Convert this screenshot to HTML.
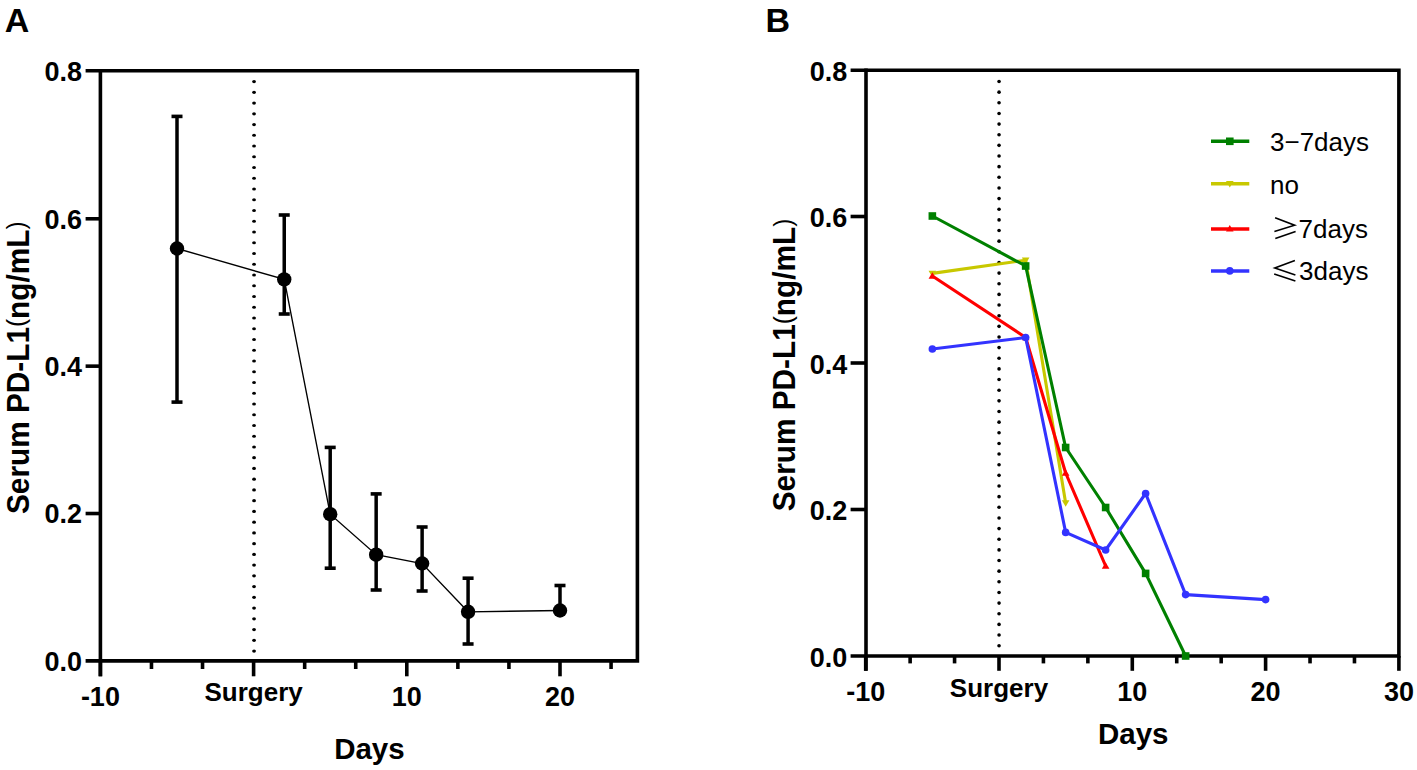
<!DOCTYPE html>
<html><head><meta charset="utf-8"><style>
html,body{margin:0;padding:0;background:#fff;width:1417px;height:770px;overflow:hidden}
svg{display:block;font-family:"Liberation Sans",sans-serif}
</style></head><body>
<svg width="1417" height="770" viewBox="0 0 1417 770">
<rect width="1417" height="770" fill="#fff"/>
<path d="M85.60,70.80 H637.40 V660.90 H85.60" fill="none" stroke="#000" stroke-width="3.6" stroke-linejoin="miter"/>
<line x1="100.40" y1="69.00" x2="100.40" y2="676.30" stroke="#000" stroke-width="3.6" stroke-linecap="butt"/>
<line x1="85.60" y1="513.52" x2="100.40" y2="513.52" stroke="#000" stroke-width="3.6" stroke-linecap="butt"/>
<line x1="85.60" y1="366.15" x2="100.40" y2="366.15" stroke="#000" stroke-width="3.6" stroke-linecap="butt"/>
<line x1="85.60" y1="218.78" x2="100.40" y2="218.78" stroke="#000" stroke-width="3.6" stroke-linecap="butt"/>
<line x1="100.40" y1="660.90" x2="100.40" y2="676.30" stroke="#000" stroke-width="3.6" stroke-linecap="butt"/>
<line x1="151.47" y1="660.90" x2="151.47" y2="669.00" stroke="#000" stroke-width="3.6" stroke-linecap="butt"/>
<line x1="202.53" y1="660.90" x2="202.53" y2="669.00" stroke="#000" stroke-width="3.6" stroke-linecap="butt"/>
<line x1="253.60" y1="660.90" x2="253.60" y2="676.30" stroke="#000" stroke-width="3.6" stroke-linecap="butt"/>
<line x1="304.67" y1="660.90" x2="304.67" y2="669.00" stroke="#000" stroke-width="3.6" stroke-linecap="butt"/>
<line x1="355.73" y1="660.90" x2="355.73" y2="669.00" stroke="#000" stroke-width="3.6" stroke-linecap="butt"/>
<line x1="406.80" y1="660.90" x2="406.80" y2="676.30" stroke="#000" stroke-width="3.6" stroke-linecap="butt"/>
<line x1="457.87" y1="660.90" x2="457.87" y2="669.00" stroke="#000" stroke-width="3.6" stroke-linecap="butt"/>
<line x1="508.93" y1="660.90" x2="508.93" y2="669.00" stroke="#000" stroke-width="3.6" stroke-linecap="butt"/>
<line x1="560.00" y1="660.90" x2="560.00" y2="676.30" stroke="#000" stroke-width="3.6" stroke-linecap="butt"/>
<line x1="611.07" y1="660.90" x2="611.07" y2="669.00" stroke="#000" stroke-width="3.6" stroke-linecap="butt"/>
<ellipse cx="254.05" cy="81.60" rx="1.9" ry="1.55" fill="#000"/>
<ellipse cx="254.05" cy="92.34" rx="1.9" ry="1.55" fill="#000"/>
<ellipse cx="254.05" cy="103.09" rx="1.9" ry="1.55" fill="#000"/>
<ellipse cx="254.05" cy="113.83" rx="1.9" ry="1.55" fill="#000"/>
<ellipse cx="254.05" cy="124.58" rx="1.9" ry="1.55" fill="#000"/>
<ellipse cx="254.05" cy="135.32" rx="1.9" ry="1.55" fill="#000"/>
<ellipse cx="254.05" cy="146.07" rx="1.9" ry="1.55" fill="#000"/>
<ellipse cx="254.05" cy="156.81" rx="1.9" ry="1.55" fill="#000"/>
<ellipse cx="254.05" cy="167.56" rx="1.9" ry="1.55" fill="#000"/>
<ellipse cx="254.05" cy="178.31" rx="1.9" ry="1.55" fill="#000"/>
<ellipse cx="254.05" cy="189.05" rx="1.9" ry="1.55" fill="#000"/>
<ellipse cx="254.05" cy="199.79" rx="1.9" ry="1.55" fill="#000"/>
<ellipse cx="254.05" cy="210.54" rx="1.9" ry="1.55" fill="#000"/>
<ellipse cx="254.05" cy="221.28" rx="1.9" ry="1.55" fill="#000"/>
<ellipse cx="254.05" cy="232.03" rx="1.9" ry="1.55" fill="#000"/>
<ellipse cx="254.05" cy="242.77" rx="1.9" ry="1.55" fill="#000"/>
<ellipse cx="254.05" cy="253.52" rx="1.9" ry="1.55" fill="#000"/>
<ellipse cx="254.05" cy="264.26" rx="1.9" ry="1.55" fill="#000"/>
<ellipse cx="254.05" cy="275.01" rx="1.9" ry="1.55" fill="#000"/>
<ellipse cx="254.05" cy="285.75" rx="1.9" ry="1.55" fill="#000"/>
<ellipse cx="254.05" cy="296.50" rx="1.9" ry="1.55" fill="#000"/>
<ellipse cx="254.05" cy="307.25" rx="1.9" ry="1.55" fill="#000"/>
<ellipse cx="254.05" cy="317.99" rx="1.9" ry="1.55" fill="#000"/>
<ellipse cx="254.05" cy="328.74" rx="1.9" ry="1.55" fill="#000"/>
<ellipse cx="254.05" cy="339.48" rx="1.9" ry="1.55" fill="#000"/>
<ellipse cx="254.05" cy="350.23" rx="1.9" ry="1.55" fill="#000"/>
<ellipse cx="254.05" cy="360.97" rx="1.9" ry="1.55" fill="#000"/>
<ellipse cx="254.05" cy="371.71" rx="1.9" ry="1.55" fill="#000"/>
<ellipse cx="254.05" cy="382.46" rx="1.9" ry="1.55" fill="#000"/>
<ellipse cx="254.05" cy="393.20" rx="1.9" ry="1.55" fill="#000"/>
<ellipse cx="254.05" cy="403.95" rx="1.9" ry="1.55" fill="#000"/>
<ellipse cx="254.05" cy="414.69" rx="1.9" ry="1.55" fill="#000"/>
<ellipse cx="254.05" cy="425.44" rx="1.9" ry="1.55" fill="#000"/>
<ellipse cx="254.05" cy="436.18" rx="1.9" ry="1.55" fill="#000"/>
<ellipse cx="254.05" cy="446.93" rx="1.9" ry="1.55" fill="#000"/>
<ellipse cx="254.05" cy="457.67" rx="1.9" ry="1.55" fill="#000"/>
<ellipse cx="254.05" cy="468.42" rx="1.9" ry="1.55" fill="#000"/>
<ellipse cx="254.05" cy="479.16" rx="1.9" ry="1.55" fill="#000"/>
<ellipse cx="254.05" cy="489.91" rx="1.9" ry="1.55" fill="#000"/>
<ellipse cx="254.05" cy="500.65" rx="1.9" ry="1.55" fill="#000"/>
<ellipse cx="254.05" cy="511.40" rx="1.9" ry="1.55" fill="#000"/>
<ellipse cx="254.05" cy="522.14" rx="1.9" ry="1.55" fill="#000"/>
<ellipse cx="254.05" cy="532.89" rx="1.9" ry="1.55" fill="#000"/>
<ellipse cx="254.05" cy="543.63" rx="1.9" ry="1.55" fill="#000"/>
<ellipse cx="254.05" cy="554.38" rx="1.9" ry="1.55" fill="#000"/>
<ellipse cx="254.05" cy="565.12" rx="1.9" ry="1.55" fill="#000"/>
<ellipse cx="254.05" cy="575.87" rx="1.9" ry="1.55" fill="#000"/>
<ellipse cx="254.05" cy="586.62" rx="1.9" ry="1.55" fill="#000"/>
<ellipse cx="254.05" cy="597.36" rx="1.9" ry="1.55" fill="#000"/>
<ellipse cx="254.05" cy="608.11" rx="1.9" ry="1.55" fill="#000"/>
<ellipse cx="254.05" cy="618.85" rx="1.9" ry="1.55" fill="#000"/>
<ellipse cx="254.05" cy="629.60" rx="1.9" ry="1.55" fill="#000"/>
<ellipse cx="254.05" cy="640.34" rx="1.9" ry="1.55" fill="#000"/>
<ellipse cx="254.05" cy="651.09" rx="1.9" ry="1.55" fill="#000"/>
<path d="M177.00,248.50 L284.24,279.40 L330.20,514.20 L376.16,554.70 L422.12,563.50 L468.08,611.80 L560.00,610.50" fill="none" stroke="#000" stroke-width="1.35"/>
<line x1="177.00" y1="116.40" x2="177.00" y2="402.10" stroke="#000" stroke-width="3.5" stroke-linecap="butt"/>
<line x1="171.50" y1="116.40" x2="182.50" y2="116.40" stroke="#000" stroke-width="3.6" stroke-linecap="butt"/>
<line x1="171.50" y1="402.10" x2="182.50" y2="402.10" stroke="#000" stroke-width="3.6" stroke-linecap="butt"/>
<circle cx="177.00" cy="248.50" r="7.2" fill="#000"/>
<line x1="284.24" y1="215.00" x2="284.24" y2="314.00" stroke="#000" stroke-width="3.5" stroke-linecap="butt"/>
<line x1="278.74" y1="215.00" x2="289.74" y2="215.00" stroke="#000" stroke-width="3.6" stroke-linecap="butt"/>
<line x1="278.74" y1="314.00" x2="289.74" y2="314.00" stroke="#000" stroke-width="3.6" stroke-linecap="butt"/>
<circle cx="284.24" cy="279.40" r="7.2" fill="#000"/>
<line x1="330.20" y1="447.40" x2="330.20" y2="568.20" stroke="#000" stroke-width="3.5" stroke-linecap="butt"/>
<line x1="324.70" y1="447.40" x2="335.70" y2="447.40" stroke="#000" stroke-width="3.6" stroke-linecap="butt"/>
<line x1="324.70" y1="568.20" x2="335.70" y2="568.20" stroke="#000" stroke-width="3.6" stroke-linecap="butt"/>
<circle cx="330.20" cy="514.20" r="7.2" fill="#000"/>
<line x1="376.16" y1="493.90" x2="376.16" y2="590.00" stroke="#000" stroke-width="3.5" stroke-linecap="butt"/>
<line x1="370.66" y1="493.90" x2="381.66" y2="493.90" stroke="#000" stroke-width="3.6" stroke-linecap="butt"/>
<line x1="370.66" y1="590.00" x2="381.66" y2="590.00" stroke="#000" stroke-width="3.6" stroke-linecap="butt"/>
<circle cx="376.16" cy="554.70" r="7.2" fill="#000"/>
<line x1="422.12" y1="527.00" x2="422.12" y2="591.00" stroke="#000" stroke-width="3.5" stroke-linecap="butt"/>
<line x1="416.62" y1="527.00" x2="427.62" y2="527.00" stroke="#000" stroke-width="3.6" stroke-linecap="butt"/>
<line x1="416.62" y1="591.00" x2="427.62" y2="591.00" stroke="#000" stroke-width="3.6" stroke-linecap="butt"/>
<circle cx="422.12" cy="563.50" r="7.2" fill="#000"/>
<line x1="468.08" y1="578.20" x2="468.08" y2="644.00" stroke="#000" stroke-width="3.5" stroke-linecap="butt"/>
<line x1="462.58" y1="578.20" x2="473.58" y2="578.20" stroke="#000" stroke-width="3.6" stroke-linecap="butt"/>
<line x1="462.58" y1="644.00" x2="473.58" y2="644.00" stroke="#000" stroke-width="3.6" stroke-linecap="butt"/>
<circle cx="468.08" cy="611.80" r="7.2" fill="#000"/>
<line x1="560.00" y1="585.50" x2="560.00" y2="610.50" stroke="#000" stroke-width="3.5" stroke-linecap="butt"/>
<line x1="554.50" y1="585.50" x2="565.50" y2="585.50" stroke="#000" stroke-width="3.6" stroke-linecap="butt"/>
<circle cx="560.00" cy="610.50" r="7.2" fill="#000"/>
<text x="4.80" y="31.80" font-size="34" font-weight="bold" text-anchor="start" >A</text>
<text x="44.50" y="670.70" font-size="27" font-weight="bold" text-anchor="start" >0.0</text>
<text x="44.50" y="523.32" font-size="27" font-weight="bold" text-anchor="start" >0.2</text>
<text x="44.50" y="375.95" font-size="27" font-weight="bold" text-anchor="start" >0.4</text>
<text x="44.50" y="228.58" font-size="27" font-weight="bold" text-anchor="start" >0.6</text>
<text x="44.50" y="81.20" font-size="27" font-weight="bold" text-anchor="start" >0.8</text>
<text x="100.40" y="705.50" font-size="27" font-weight="bold" text-anchor="middle" >-10</text>
<text x="253.60" y="700.80" font-size="26" font-weight="bold" text-anchor="middle" >Surgery</text>
<text x="406.80" y="705.50" font-size="27" font-weight="bold" text-anchor="middle" >10</text>
<text x="560.00" y="705.50" font-size="27" font-weight="bold" text-anchor="middle" >20</text>
<text x="369.40" y="759.20" font-size="29.5" font-weight="bold" text-anchor="middle" >Days</text>
<text transform="translate(28.80,367.75) rotate(-90) scale(0.931,1)" font-size="32" font-weight="bold" text-anchor="middle">Serum PD-L1<tspan font-weight="normal" font-size="26" dy="-3.5">(</tspan><tspan dy="3.5">ng/mL</tspan><tspan font-weight="normal" font-size="26" dy="-3.5">)</tspan></text>
<path d="M850.60,70.30 H1398.90 V656.00 H850.60" fill="none" stroke="#000" stroke-width="3.6" stroke-linejoin="miter"/>
<line x1="866.00" y1="68.50" x2="866.00" y2="670.80" stroke="#000" stroke-width="3.6" stroke-linecap="butt"/>
<line x1="850.60" y1="509.50" x2="866.00" y2="509.50" stroke="#000" stroke-width="3.6" stroke-linecap="butt"/>
<line x1="850.60" y1="363.00" x2="866.00" y2="363.00" stroke="#000" stroke-width="3.6" stroke-linecap="butt"/>
<line x1="850.60" y1="216.50" x2="866.00" y2="216.50" stroke="#000" stroke-width="3.6" stroke-linecap="butt"/>
<line x1="865.70" y1="656.00" x2="865.70" y2="670.80" stroke="#000" stroke-width="3.6" stroke-linecap="butt"/>
<line x1="910.13" y1="656.00" x2="910.13" y2="663.40" stroke="#000" stroke-width="3.6" stroke-linecap="butt"/>
<line x1="954.57" y1="656.00" x2="954.57" y2="663.40" stroke="#000" stroke-width="3.6" stroke-linecap="butt"/>
<line x1="999.00" y1="656.00" x2="999.00" y2="670.80" stroke="#000" stroke-width="3.6" stroke-linecap="butt"/>
<line x1="1043.43" y1="656.00" x2="1043.43" y2="663.40" stroke="#000" stroke-width="3.6" stroke-linecap="butt"/>
<line x1="1087.87" y1="656.00" x2="1087.87" y2="663.40" stroke="#000" stroke-width="3.6" stroke-linecap="butt"/>
<line x1="1132.30" y1="656.00" x2="1132.30" y2="670.80" stroke="#000" stroke-width="3.6" stroke-linecap="butt"/>
<line x1="1176.73" y1="656.00" x2="1176.73" y2="663.40" stroke="#000" stroke-width="3.6" stroke-linecap="butt"/>
<line x1="1221.17" y1="656.00" x2="1221.17" y2="663.40" stroke="#000" stroke-width="3.6" stroke-linecap="butt"/>
<line x1="1265.60" y1="656.00" x2="1265.60" y2="670.80" stroke="#000" stroke-width="3.6" stroke-linecap="butt"/>
<line x1="1310.03" y1="656.00" x2="1310.03" y2="663.40" stroke="#000" stroke-width="3.6" stroke-linecap="butt"/>
<line x1="1354.47" y1="656.00" x2="1354.47" y2="663.40" stroke="#000" stroke-width="3.6" stroke-linecap="butt"/>
<line x1="1398.90" y1="656.00" x2="1398.90" y2="670.80" stroke="#000" stroke-width="3.6" stroke-linecap="butt"/>
<ellipse cx="999.05" cy="81.50" rx="1.8" ry="1.8" fill="#000"/>
<ellipse cx="999.05" cy="92.14" rx="1.8" ry="1.8" fill="#000"/>
<ellipse cx="999.05" cy="102.79" rx="1.8" ry="1.8" fill="#000"/>
<ellipse cx="999.05" cy="113.44" rx="1.8" ry="1.8" fill="#000"/>
<ellipse cx="999.05" cy="124.08" rx="1.8" ry="1.8" fill="#000"/>
<ellipse cx="999.05" cy="134.72" rx="1.8" ry="1.8" fill="#000"/>
<ellipse cx="999.05" cy="145.37" rx="1.8" ry="1.8" fill="#000"/>
<ellipse cx="999.05" cy="156.01" rx="1.8" ry="1.8" fill="#000"/>
<ellipse cx="999.05" cy="166.66" rx="1.8" ry="1.8" fill="#000"/>
<ellipse cx="999.05" cy="177.31" rx="1.8" ry="1.8" fill="#000"/>
<ellipse cx="999.05" cy="187.95" rx="1.8" ry="1.8" fill="#000"/>
<ellipse cx="999.05" cy="198.59" rx="1.8" ry="1.8" fill="#000"/>
<ellipse cx="999.05" cy="209.24" rx="1.8" ry="1.8" fill="#000"/>
<ellipse cx="999.05" cy="219.88" rx="1.8" ry="1.8" fill="#000"/>
<ellipse cx="999.05" cy="230.53" rx="1.8" ry="1.8" fill="#000"/>
<ellipse cx="999.05" cy="241.17" rx="1.8" ry="1.8" fill="#000"/>
<ellipse cx="999.05" cy="251.82" rx="1.8" ry="1.8" fill="#000"/>
<ellipse cx="999.05" cy="262.47" rx="1.8" ry="1.8" fill="#000"/>
<ellipse cx="999.05" cy="273.11" rx="1.8" ry="1.8" fill="#000"/>
<ellipse cx="999.05" cy="283.75" rx="1.8" ry="1.8" fill="#000"/>
<ellipse cx="999.05" cy="294.40" rx="1.8" ry="1.8" fill="#000"/>
<ellipse cx="999.05" cy="305.04" rx="1.8" ry="1.8" fill="#000"/>
<ellipse cx="999.05" cy="315.69" rx="1.8" ry="1.8" fill="#000"/>
<ellipse cx="999.05" cy="326.33" rx="1.8" ry="1.8" fill="#000"/>
<ellipse cx="999.05" cy="336.98" rx="1.8" ry="1.8" fill="#000"/>
<ellipse cx="999.05" cy="347.62" rx="1.8" ry="1.8" fill="#000"/>
<ellipse cx="999.05" cy="358.27" rx="1.8" ry="1.8" fill="#000"/>
<ellipse cx="999.05" cy="368.91" rx="1.8" ry="1.8" fill="#000"/>
<ellipse cx="999.05" cy="379.56" rx="1.8" ry="1.8" fill="#000"/>
<ellipse cx="999.05" cy="390.20" rx="1.8" ry="1.8" fill="#000"/>
<ellipse cx="999.05" cy="400.85" rx="1.8" ry="1.8" fill="#000"/>
<ellipse cx="999.05" cy="411.50" rx="1.8" ry="1.8" fill="#000"/>
<ellipse cx="999.05" cy="422.14" rx="1.8" ry="1.8" fill="#000"/>
<ellipse cx="999.05" cy="432.78" rx="1.8" ry="1.8" fill="#000"/>
<ellipse cx="999.05" cy="443.43" rx="1.8" ry="1.8" fill="#000"/>
<ellipse cx="999.05" cy="454.07" rx="1.8" ry="1.8" fill="#000"/>
<ellipse cx="999.05" cy="464.72" rx="1.8" ry="1.8" fill="#000"/>
<ellipse cx="999.05" cy="475.37" rx="1.8" ry="1.8" fill="#000"/>
<ellipse cx="999.05" cy="486.01" rx="1.8" ry="1.8" fill="#000"/>
<ellipse cx="999.05" cy="496.65" rx="1.8" ry="1.8" fill="#000"/>
<ellipse cx="999.05" cy="507.30" rx="1.8" ry="1.8" fill="#000"/>
<ellipse cx="999.05" cy="517.94" rx="1.8" ry="1.8" fill="#000"/>
<ellipse cx="999.05" cy="528.59" rx="1.8" ry="1.8" fill="#000"/>
<ellipse cx="999.05" cy="539.23" rx="1.8" ry="1.8" fill="#000"/>
<ellipse cx="999.05" cy="549.88" rx="1.8" ry="1.8" fill="#000"/>
<ellipse cx="999.05" cy="560.52" rx="1.8" ry="1.8" fill="#000"/>
<ellipse cx="999.05" cy="571.17" rx="1.8" ry="1.8" fill="#000"/>
<ellipse cx="999.05" cy="581.82" rx="1.8" ry="1.8" fill="#000"/>
<ellipse cx="999.05" cy="592.46" rx="1.8" ry="1.8" fill="#000"/>
<ellipse cx="999.05" cy="603.11" rx="1.8" ry="1.8" fill="#000"/>
<ellipse cx="999.05" cy="613.75" rx="1.8" ry="1.8" fill="#000"/>
<ellipse cx="999.05" cy="624.39" rx="1.8" ry="1.8" fill="#000"/>
<ellipse cx="999.05" cy="635.04" rx="1.8" ry="1.8" fill="#000"/>
<ellipse cx="999.05" cy="645.68" rx="1.8" ry="1.8" fill="#000"/>
<path d="M932.35,273.40 L1025.66,260.20 L1065.65,503.00" fill="none" stroke="#c8c800" stroke-width="3.1" stroke-linejoin="round"/>
<path d="M932.35,277.20 L936.15,270.74 L928.55,270.74Z" fill="#c8c800"/>
<path d="M1025.66,264.00 L1029.46,257.54 L1021.86,257.54Z" fill="#c8c800"/>
<path d="M1065.65,506.80 L1069.45,500.34 L1061.85,500.34Z" fill="#c8c800"/>
<path d="M932.35,276.00 L1025.66,337.50 L1065.65,473.00 L1105.64,566.00" fill="none" stroke="#ff0000" stroke-width="3.1" stroke-linejoin="round"/>
<path d="M932.35,272.20 L936.15,278.66 L928.55,278.66Z" fill="#ff0000"/>
<path d="M1025.66,333.70 L1029.46,340.16 L1021.86,340.16Z" fill="#ff0000"/>
<path d="M1065.65,469.20 L1069.45,475.66 L1061.85,475.66Z" fill="#ff0000"/>
<path d="M1105.64,562.20 L1109.44,568.66 L1101.84,568.66Z" fill="#ff0000"/>
<path d="M932.35,216.00 L1025.66,266.00 L1065.65,447.50 L1105.64,507.50 L1145.63,573.40 L1185.62,656.00" fill="none" stroke="#008000" stroke-width="3.1" stroke-linejoin="round"/>
<rect x="928.55" y="212.20" width="7.60" height="7.60" fill="#008000"/>
<rect x="1021.86" y="262.20" width="7.60" height="7.60" fill="#008000"/>
<rect x="1061.85" y="443.70" width="7.60" height="7.60" fill="#008000"/>
<rect x="1101.84" y="503.70" width="7.60" height="7.60" fill="#008000"/>
<rect x="1141.83" y="569.60" width="7.60" height="7.60" fill="#008000"/>
<rect x="1181.82" y="652.20" width="7.60" height="7.60" fill="#008000"/>
<path d="M932.35,349.00 L1025.66,337.50 L1065.65,532.40 L1105.64,550.00 L1145.63,493.50 L1185.62,594.60 L1265.60,599.60" fill="none" stroke="#3333ff" stroke-width="3.1" stroke-linejoin="round"/>
<circle cx="932.35" cy="349.00" r="3.80" fill="#3333ff"/>
<circle cx="1025.66" cy="337.50" r="3.80" fill="#3333ff"/>
<circle cx="1065.65" cy="532.40" r="3.80" fill="#3333ff"/>
<circle cx="1105.64" cy="550.00" r="3.80" fill="#3333ff"/>
<circle cx="1145.63" cy="493.50" r="3.80" fill="#3333ff"/>
<circle cx="1185.62" cy="594.60" r="3.80" fill="#3333ff"/>
<circle cx="1265.60" cy="599.60" r="3.80" fill="#3333ff"/>
<text x="765.60" y="31.80" font-size="34" font-weight="bold" text-anchor="start" >B</text>
<text x="809.80" y="666.80" font-size="27" font-weight="bold" text-anchor="start" >0.0</text>
<text x="809.80" y="520.30" font-size="27" font-weight="bold" text-anchor="start" >0.2</text>
<text x="809.80" y="373.80" font-size="27" font-weight="bold" text-anchor="start" >0.4</text>
<text x="809.80" y="227.30" font-size="27" font-weight="bold" text-anchor="start" >0.6</text>
<text x="809.80" y="80.80" font-size="27" font-weight="bold" text-anchor="start" >0.8</text>
<text x="865.70" y="700.50" font-size="27" font-weight="bold" text-anchor="middle" >-10</text>
<text x="999.00" y="696.50" font-size="26" font-weight="bold" text-anchor="middle" >Surgery</text>
<text x="1132.30" y="700.50" font-size="27" font-weight="bold" text-anchor="middle" >10</text>
<text x="1265.60" y="700.50" font-size="27" font-weight="bold" text-anchor="middle" >20</text>
<text x="1398.90" y="700.50" font-size="27" font-weight="bold" text-anchor="middle" >30</text>
<text x="1133.20" y="744.00" font-size="29.5" font-weight="bold" text-anchor="middle" >Days</text>
<text transform="translate(795.10,365.05) rotate(-90) scale(0.931,1)" font-size="32" font-weight="bold" text-anchor="middle">Serum PD-L1<tspan font-weight="normal" font-size="26" dy="-3.5">(</tspan><tspan dy="3.5">ng/mL</tspan><tspan font-weight="normal" font-size="26" dy="-3.5">)</tspan></text>
<line x1="1211.00" y1="141.30" x2="1249.30" y2="141.30" stroke="#008000" stroke-width="3.5" stroke-linecap="butt"/>
<rect x="1226.00" y="137.50" width="7.60" height="7.60" fill="#008000"/>
<line x1="1211.00" y1="183.70" x2="1249.30" y2="183.70" stroke="#c8c800" stroke-width="3.5" stroke-linecap="butt"/>
<path d="M1229.80,187.50 L1233.60,181.04 L1226.00,181.04Z" fill="#c8c800"/>
<line x1="1211.00" y1="228.90" x2="1249.30" y2="228.90" stroke="#ff0000" stroke-width="3.5" stroke-linecap="butt"/>
<path d="M1229.80,225.10 L1233.60,231.56 L1226.00,231.56Z" fill="#ff0000"/>
<line x1="1211.00" y1="270.90" x2="1249.30" y2="270.90" stroke="#3333ff" stroke-width="3.5" stroke-linecap="butt"/>
<circle cx="1229.80" cy="270.90" r="3.80" fill="#3333ff"/>
<text x="1270.00" y="151.30" font-size="26" font-weight="normal" text-anchor="start" >3−7days</text>
<text x="1270.00" y="193.80" font-size="26" font-weight="normal" text-anchor="start" >no</text>
<text x="1298.50" y="237.80" font-size="26" font-weight="normal" text-anchor="start" >7days</text>
<text x="1299.00" y="280.40" font-size="26" font-weight="normal" text-anchor="start" >3days</text>
<path d="M1275.1,217.7 L1294.6,225.2 L1274.4,231.4 M1275.3,238.5 L1295.6,231.4" fill="none" stroke="#000" stroke-width="1.6" stroke-linejoin="miter"/>
<path d="M1294.9,260.6 L1274.8,267.9 L1295.4,275 M1274.2,274.1 L1295.4,280.9" fill="none" stroke="#000" stroke-width="1.6" stroke-linejoin="miter"/>
</svg>
</body></html>
